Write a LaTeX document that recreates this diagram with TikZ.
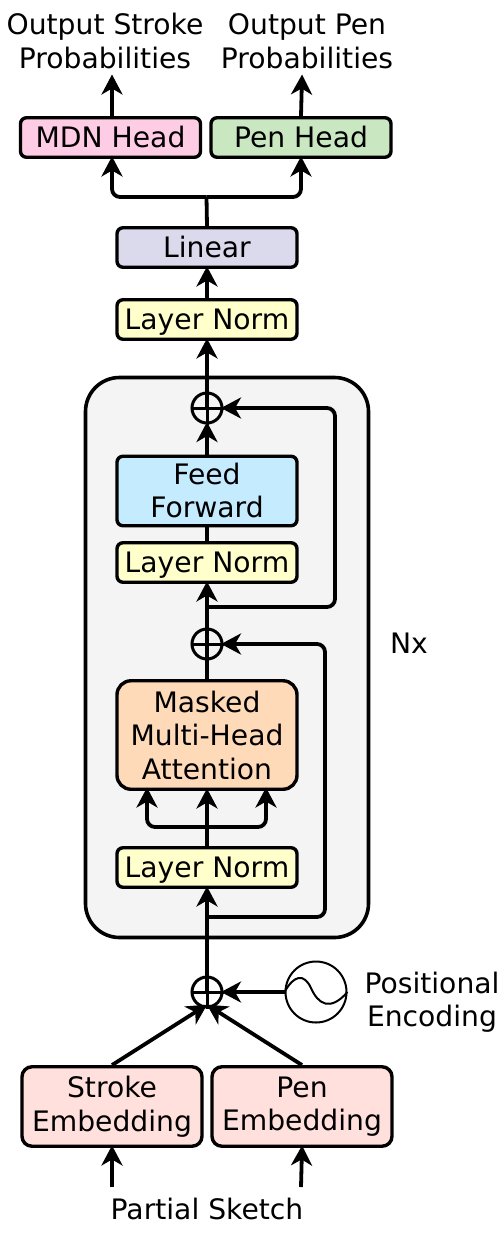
\documentclass[tikz,border=0pt]{standalone}
\usepackage{fontspec}
\setmainfont{DejaVu Sans}
\usetikzlibrary{arrows.meta}
\definecolor{cmdn}{HTML}{FFCCE6}
\definecolor{cpen}{HTML}{C9E7C1}
\definecolor{clin}{HTML}{DBD9EC}
\definecolor{cnorm}{HTML}{FFFFCC}
\definecolor{cff}{HTML}{C5EBFF}
\definecolor{catt}{HTML}{FFDAB9}
\definecolor{cemb}{HTML}{FFE0DC}
\definecolor{cblock}{HTML}{F4F4F4}
\tikzset{
  lbl/.style={font=\fontsize{28.2}{33.5}\selectfont, align=center, inner sep=0pt, text=black},
  blk/.style={lbl, draw=black, line width=3.4pt, rounded corners=6pt, minimum width=180pt, outer sep=1.7pt},
  h36/.style={blk, minimum height=39.5pt, text height=21.5pt, text depth=2pt},
  sumc/.style={circle, draw=black, line width=3pt, minimum size=30pt, inner sep=0pt, outer sep=1.5pt},
  sinec/.style={circle, draw=black, line width=2pt, minimum size=61pt, inner sep=0pt, outer sep=1pt},
  conn/.style={line width=3.8pt, line cap=butt, rounded corners=8pt, shorten >=-2.5pt, -{Stealth[length=20pt,width=21pt,inset=6pt]}},
  wire/.style={line width=3.8pt, rounded corners=8pt},
}
\begin{document}
\begin{tikzpicture}[x=1pt,y=-1pt]
\useasboundingbox (0,0) rectangle (502,1237);
% block
\node[draw=black, fill=cblock, line width=3.6pt, rounded corners=34pt, minimum width=283pt, minimum height=560pt, inner sep=0pt] (block) at (227,657.5) {};
% labels
\node[lbl] (outS) at (105,41) {Output Stroke\\Probabilities};
\node[lbl] (outP) at (307,41) {Output Pen\\Probabilities};
\node[lbl] (nx) at (409,643) {Nx};
\node[lbl] (pos) at (432,1002) {Positional\\Encoding};
\node[lbl] (sketch) at (207,1209) {Partial Sketch};
% boxes
\node[h36, fill=cmdn] (mdn) at (110.5,137.5) {MDN Head};
\node[h36, fill=cpen] (penh) at (301,137.5) {Pen Head};
\node[h36, fill=clin] (linear) at (207,247.5) {Linear};
\node[h36, fill=cnorm] (ln3) at (207,319.5) {Layer Norm};
\node[blk, fill=cff, minimum height=69.5pt] (ff) at (207,491) {\raisebox{1pt}{Feed}\\\raisebox{1pt}{Forward}};
\node[h36, fill=cnorm] (ln2) at (207,562.5) {Layer Norm};
\node[blk, fill=catt, minimum height=108.5pt, rounded corners=14pt] (att) at (207,735) {Masked\\Multi-Head\\Attention};
\node[h36, fill=cnorm] (ln1) at (207,867.5) {Layer Norm};
\node[blk, fill=cemb, minimum height=79.5pt, rounded corners=10pt] (se) at (112,1106.5) {\raisebox{-2pt}{Stroke}\\\raisebox{-2pt}{Embedding}};
\node[blk, fill=cemb, minimum height=79.5pt, rounded corners=10pt] (pe) at (302,1106.5) {\raisebox{-2pt}{Pen}\\\raisebox{-2pt}{Embedding}};
% sums
\node[sumc] (s3) at (207,408) {};
\node[sumc] (s2) at (207,644) {};
\node[sumc] (s1) at (207,992) {};
\node[sinec] (sine) at (316,992) {};
% free ends
\coordinate (inS) at (112,1187);
\coordinate (inP) at (301,1187);
\coordinate (toS) at (112,77);
\coordinate (toP) at (302,77);
\coordinate (split) at (206.5,197);
\coordinate (skip2) at (207,607);
\coordinate (skip1) at (207,917);
\coordinate (fan) at (207,827);
\coordinate (attL) at (147,790);
\coordinate (attR) at (266,790);
% connectors
\draw[conn] (inS) -- (se.south);
\draw[conn] (inP) -- (pe.south);
\draw[conn] (toS |- mdn.north) -- (toS);
\draw[conn] (penh.north) -- (toP);
\draw[wire] (linear.north) -- (split);
\draw[conn] (split) -| (toS |- mdn.south);
\draw[conn] (split) -| (penh.south);
\draw[conn] (ln3.north) -- (linear.south);
\draw[conn] (s3.center) -- (ln3.south);
\draw[conn] (ff.north) -- (s3.south);
\draw[wire] (ln2.north) -- (ff.south);
\draw[conn] (s2.center) -- (ln2.south);
\draw[wire] (att.north) -- (s2.center);
\draw[conn] (ln1.north) -- (att.south);
\draw[conn] (fan) -| (attL);
\draw[conn] (fan) -| (attR);
\draw[conn] (s1.center) -- (ln1.south);
\draw[conn] (skip2) -- (335,607) -- (335,408) -- (s3.east);
\draw[conn] (skip1) -- (325,917) -- (325,644) -- (s2.east);
\draw[conn, line width=3.4pt] (sine.west) -- (s1.east);
\draw[conn] (se.north) -- (205,1006);
\draw[conn] (pe.north) -- (209,1006);
% sum marks
\foreach \n in {s1,s2,s3}{
  \draw[line width=3pt] (\n.west) -- (\n.east);
  \draw[line width=3pt] (\n.north) -- (\n.south);
}
% sine wave
\draw[line width=2pt] (sine.west) .. controls (294,975) and (304,973) .. (311,988)
  .. controls (318,1004) and (330,1012) .. (sine.east);
\end{tikzpicture}
\end{document}
